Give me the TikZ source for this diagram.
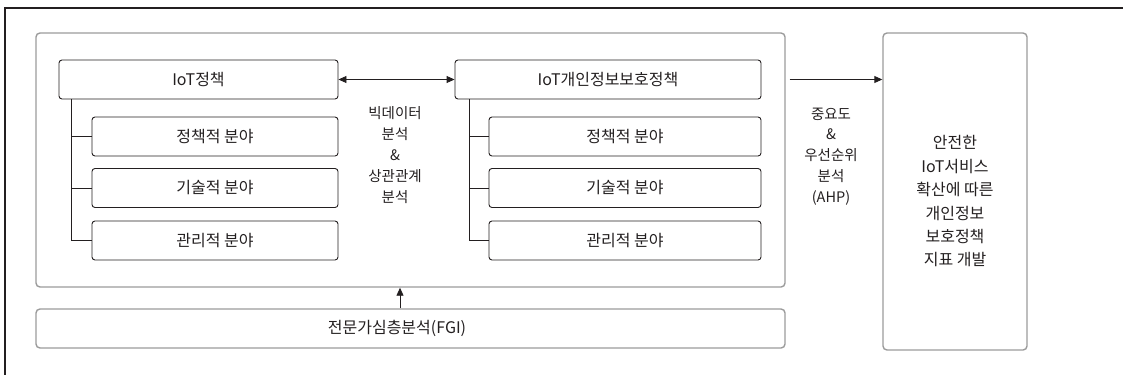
\documentclass[tikz,border=0pt]{standalone}
\usepackage{fontspec}
\setmainfont{Noto Sans CJK KR}
\usetikzlibrary{arrows.meta,positioning,calc}
\definecolor{framegray}{RGB}{155,155,155}
\definecolor{linedark}{RGB}{35,31,32}
\begin{document}
\begin{tikzpicture}[x=1pt, y=-1pt,
        panel/.style={draw=framegray, line width=1.4pt, rounded corners=4pt, inner sep=0pt},
        block/.style={draw=linedark, line width=0.9pt, rounded corners=3pt, minimum height=39pt, inner sep=0pt, text=linedark, font=\fontsize{16}{19}\selectfont},
        note/.style={align=center, inner sep=0pt, text=linedark, font=\fontsize{14.5}{20.8}\selectfont},
        arrow/.style={-{Triangle[length=8pt, width=7pt]}, line width=0.9pt, draw=linedark},
        twoway/.style={{Triangle[length=8pt, width=7pt]}-{Triangle[length=8pt, width=7pt]}, line width=0.9pt, draw=linedark},
        branch/.style={line width=0.9pt, draw=linedark}
    ]
        \useasboundingbox (0,0) rectangle (1123,375);

        % Frame
        \draw[linedark, line width=1.2pt] (1123,8) -- (5,8) -- (5,375);

        % Panels
        \node[panel, minimum width=749pt, minimum height=254pt] (study) at (410.5, 160) {};
        \node[panel, minimum width=749pt, minimum height=39pt] (fgi) at (410.5, 328.5) {};
        \node[text=linedark, font=\fontsize{16}{19}\selectfont, inner sep=0pt] (fgitext) at (397, 328.5) {전문가심층분석(FGI)};
        \node[panel, minimum width=144pt, minimum height=317pt] (goal) at (955, 191.5) {};
        \node[note, font=\fontsize{16}{23.4}\selectfont] (goaltext) at (955, 201.5) {안전한\\IoT서비스\\확산에 따른\\개인정보\\보호정책\\지표 개발};

        % IoT policy tree
        \node[block, minimum width=279pt] (iot) at (198.5, 79.5) {IoT정책};
        \node[block, minimum width=246pt] (iot1) at (215, 136.5) {정책적 분야};
        \node[block, minimum width=246pt] (iot2) at (215, 188) {기술적 분야};
        \node[block, minimum width=246pt] (iot3) at (215, 240.5) {관리적 분야};

        % IoT privacy policy tree
        \node[block, minimum width=306pt] (priv) at (608, 79.5) {IoT개인정보보호정책};
        \node[block, minimum width=272pt] (priv1) at (625, 136.5) {정책적 분야};
        \node[block, minimum width=272pt] (priv2) at (625, 188) {기술적 분야};
        \node[block, minimum width=272pt] (priv3) at (625, 240.5) {관리적 분야};

        % Branches
        \foreach \k in {1,2,3} {
            \draw[branch] ($(iot.south west)+(13,0)$) |- (iot\k.west);
            \draw[branch] ($(priv.south west)+(15,0)$) |- (priv\k.west);
        }

        % Labels
        \node[note] (bigdata) at (395, 155) {빅데이터\\분석\\\&\\상관관계\\분석};
        \node[note] (ahp) at (831, 156.5) {중요도\\\&\\우선순위\\분석\\(AHP)};

        % Arrows
        \draw[twoway] (iot.east) -- (priv.west);
        \draw[arrow] (study.east |- priv.east) ++(4,0) -- (goal.west |- priv.east);
        \draw[arrow] (fgi.north -| 400,0) -- (study.south -| 400,0);
    \end{tikzpicture}
\end{document}
